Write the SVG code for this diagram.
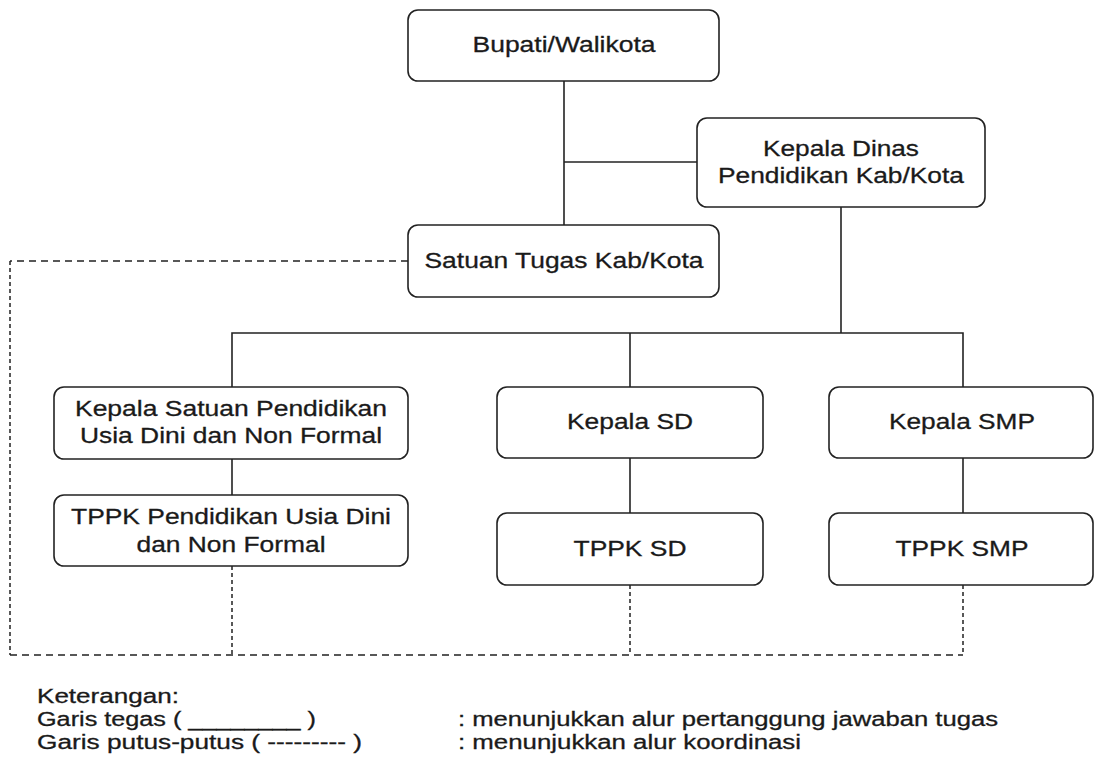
<svg xmlns="http://www.w3.org/2000/svg" width="1094" height="757" viewBox="0 0 1094 757">
  <style>
    .box rect { fill: #ffffff; stroke: #222222; stroke-width: 1.6; }
    .box text, .legend text { font-family: "Liberation Sans", Arial, Helvetica, sans-serif; fill: #1a1a1a; stroke: #1a1a1a; stroke-width: 0.3; }
    .box text { font-size: 22px; text-anchor: middle; }
    .legend text { font-size: 20px; }
    .solid { fill: none; stroke: #222222; stroke-width: 1.6; }
    .dash-h { fill: none; stroke: #222222; stroke-width: 1.5; stroke-dasharray: 7 5; }
    .dash-v { fill: none; stroke: #222222; stroke-width: 1.5; stroke-dasharray: 4 3; }
  </style>
  <rect width="1094" height="757" fill="#ffffff"/>

  <!-- connectors: solid = line of responsibility, dashed = coordination -->
  <g id="connectors">
    <path class="solid" d="M564 81 V225"/>
    <path class="solid" d="M564 162 H697"/>
    <path class="solid" d="M841 207 V333"/>
    <path class="solid" d="M232 387 V333 H963 V387"/>
    <path class="solid" d="M630 333 V387"/>
    <path class="solid" d="M232 459 V495"/>
    <path class="solid" d="M630 458 V513"/>
    <path class="solid" d="M963 458 V513"/>

    <path class="dash-h" d="M408 261 H10"/>
    <path class="dash-v" d="M10 261 V655"/>
    <path class="dash-h" d="M10 655 H963"/>
    <path class="dash-v" d="M232 566 V655"/>
    <path class="dash-v" d="M630 585 V655"/>
    <path class="dash-v" d="M963 585 V655"/>
  </g>

  <g id="bupati" class="box">
    <rect x="408" y="10" width="311" height="71" rx="10"/>
    <text x="564" y="52" textLength="183" lengthAdjust="spacingAndGlyphs">Bupati/Walikota</text>
  </g>

  <g id="kepala-dinas" class="box">
    <rect x="697" y="118" width="288" height="89" rx="10"/>
    <text x="841" y="156" textLength="156" lengthAdjust="spacingAndGlyphs">Kepala Dinas</text>
    <text x="841" y="183" textLength="246" lengthAdjust="spacingAndGlyphs">Pendidikan Kab/Kota</text>
  </g>

  <g id="satgas" class="box">
    <rect x="408" y="225" width="311" height="72" rx="10"/>
    <text x="564" y="268" textLength="279" lengthAdjust="spacingAndGlyphs">Satuan Tugas Kab/Kota</text>
  </g>

  <g id="kepala-paud" class="box">
    <rect x="54" y="387" width="354" height="72" rx="10"/>
    <text x="231" y="416" textLength="312" lengthAdjust="spacingAndGlyphs">Kepala Satuan Pendidikan</text>
    <text x="231" y="443" textLength="302" lengthAdjust="spacingAndGlyphs">Usia Dini dan Non Formal</text>
  </g>

  <g id="tppk-paud" class="box">
    <rect x="54" y="495" width="354" height="71" rx="10"/>
    <text x="231" y="524" textLength="320" lengthAdjust="spacingAndGlyphs">TPPK Pendidikan Usia Dini</text>
    <text x="231" y="552" textLength="189" lengthAdjust="spacingAndGlyphs">dan Non Formal</text>
  </g>

  <g id="kepala-sd" class="box">
    <rect x="497" y="387" width="266" height="71" rx="10"/>
    <text x="630" y="429" textLength="126" lengthAdjust="spacingAndGlyphs">Kepala SD</text>
  </g>

  <g id="tppk-sd" class="box">
    <rect x="497" y="513" width="266" height="72" rx="10"/>
    <text x="630" y="556" textLength="113" lengthAdjust="spacingAndGlyphs">TPPK SD</text>
  </g>

  <g id="kepala-smp" class="box">
    <rect x="829" y="387" width="264" height="71" rx="10"/>
    <text x="962" y="429" textLength="146" lengthAdjust="spacingAndGlyphs">Kepala SMP</text>
  </g>

  <g id="tppk-smp" class="box">
    <rect x="829" y="513" width="264" height="72" rx="10"/>
    <text x="962" y="556" textLength="133" lengthAdjust="spacingAndGlyphs">TPPK SMP</text>
  </g>

  <g id="legend" class="legend">
    <text x="37" y="703" textLength="142" lengthAdjust="spacingAndGlyphs">Keterangan:</text>
    <text x="37" y="726" textLength="279" lengthAdjust="spacingAndGlyphs">Garis tegas ( ________ )</text>
    <text x="37" y="749" textLength="325" lengthAdjust="spacingAndGlyphs">Garis putus-putus ( --------- )</text>
    <text x="458" y="726" textLength="540" lengthAdjust="spacingAndGlyphs">: menunjukkan alur pertanggung jawaban tugas</text>
    <text x="458" y="749" textLength="343" lengthAdjust="spacingAndGlyphs">: menunjukkan alur koordinasi</text>
  </g>
</svg>
